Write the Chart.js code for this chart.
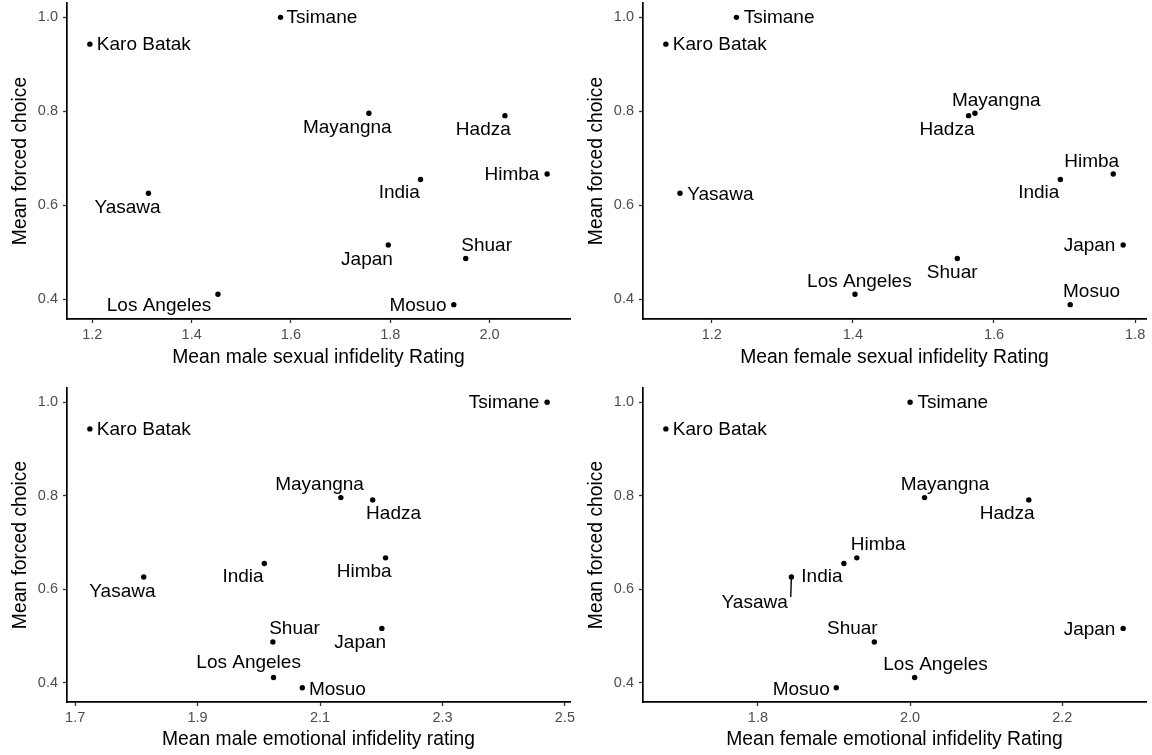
<!DOCTYPE html>
<html>
<head>
<meta charset="utf-8">
<script src="https://cdn.jsdelivr.net/npm/chart.js@4/dist/chart.umd.min.js"></script>
<style>
  body { margin: 0; background: #fff; }
  .panel { position: absolute; }
</style>
</head>
<body>
<div class="panel" style="left:0;top:0"><canvas id="c1" width="576" height="378"></canvas></div>
<div class="panel" style="left:576px;top:0"><canvas id="c2" width="576" height="378"></canvas></div>
<div class="panel" style="left:0;top:378px"><canvas id="c3" width="576" height="377"></canvas></div>
<div class="panel" style="left:576px;top:378px"><canvas id="c4" width="576" height="377"></canvas></div>
<script>
// data

let cultures = ['Tsimane', 'Karo Batak', 'Mayangna', 'Hadza', 'Himba', 'India', 'Yasawa', 'Japan', 'Shuar', 'Los Angeles', 'Mosuo'];

let forcedChoice = [1.000, 0.943, 0.796, 0.791, 0.667, 0.655, 0.626, 0.516, 0.487, 0.411, 0.389];

let maleSexual = [1.579, 1.195, 1.757, 2.031, 2.116, 1.861, 1.313, 1.796, 1.952, 1.453, 1.928];
let femaleSexual = [1.235, 1.135, 1.573, 1.564, 1.769, 1.694, 1.155, 1.783, 1.548, 1.403, 1.708];
let maleEmotional = [2.471, 1.724, 2.134, 2.186, 2.207, 2.009, 1.812, 2.201, 2.023, 2.024, 2.071];
let femaleEmotional = [2.000, 1.679, 2.019, 2.156, 1.930, 1.913, 1.844, 2.280, 1.953, 2.006, 1.903];

let yTicks = [0.4, 0.6, 0.8, 1.0];
let maleSexualTicks = [1.2, 1.4, 1.6, 1.8, 2.0];
let femaleSexualTicks = [1.2, 1.4, 1.6, 1.8];
let maleEmotionalTicks = [1.7, 1.9, 2.1, 2.3, 2.5];
let femaleEmotionalTicks = [1.8, 2.0, 2.2];

// label placement (pixel offset from the point + text align), same order as cultures

let place1 = [[6, 0, 'left'], [7, 1, 'left'], [-21.6, 14.4, 'center'], [-21.6, 13.8, 'center'], [-7.7, 1, 'right'], [-21.3, 13.4, 'center'],
  [-20.9, 14.8, 'center'], [-21.3, 14.4, 'center'], [20.9, -13.1, 'center'], [-6.6, 11.7, 'right'], [-7.3, 1, 'right']];
let place2 = [[7.3, 0, 'left'], [7, 1, 'left'], [21.3, -12.8, 'center'], [-21.6, 13.8, 'center'], [-21.6, -12.4, 'center'], [-21.6, 13.4, 'center'],
  [7.3, 1.3, 'left'], [-7.7, 1, 'right'], [-5.1, 13.8, 'center'], [4.4, -12.8, 'center'], [21.3, -12.4, 'center']];
let place3 = [[-7.7, 0, 'right'], [7, 1, 'left'], [-21.3, -12.8, 'center'], [20.9, 14.1, 'center'], [-21.3, 14.1, 'center'], [-21.3, 13.8, 'center'],
  [-21.3, 14.8, 'center'], [-21.6, 14.8, 'center'], [21.6, -13.4, 'center'], [-24.9, -14.8, 'center'], [6.6, 1.7, 'left']];
let place4 = [[7.3, 0, 'left'], [7, 1, 'left'], [20.5, -12.8, 'center'], [-21.6, 14.1, 'center'], [21.3, -12.8, 'center'], [-22, 13.8, 'center'],
  [-36.7, 25.5, 'center', [-0.7, 20]], [-7.7, 1, 'right'], [-22, -13.4, 'center'], [20.9, -13.1, 'center'], [-6.6, 1.7, 'right']];

const FONT = "'Liberation Sans', Arial, Helvetica, sans-serif";

// ggplot style 5% expansion of the axis range
function expand(values) {
  let lo = Math.min(...values);
  let hi = Math.max(...values);
  let pad = (hi - lo) * 0.05;
  return [lo - pad, hi + pad];
}

// draws the text labels next to each point
const pointLabels = {
  id: 'pointLabels',
  afterDatasetsDraw(chart, args, opts) {
    const ctx = chart.ctx;
    const meta = chart.getDatasetMeta(0);
    ctx.save();
    ctx.font = '19px ' + FONT;
    ctx.fillStyle = '#000';
    ctx.strokeStyle = '#000';
    ctx.textBaseline = 'middle';
    meta.data.forEach(function (pt, i) {
      let p = opts.place[i];
      ctx.textAlign = p[2];
      ctx.fillText(opts.names[i], pt.x + p[0], pt.y + p[1]);
      if (p[3]) {
        ctx.lineWidth = 1.4;
        ctx.beginPath();
        ctx.moveTo(pt.x, pt.y);
        ctx.lineTo(pt.x + p[3][0], pt.y + p[3][1]);
        ctx.stroke();
      }
    });
    ctx.restore();
  }
};

function makePanel(id, xValues, xTicks, xTitle, place, row) {
  let xr = expand(xValues);
  let yr = expand(forcedChoice);
  let points = [];
  for (let i = 0; i < cultures.length; i++) {
    points.push({ x: xValues[i], y: forcedChoice[i] });
  }

  let axisStyle = {
    grid: { drawOnChartArea: false, drawTicks: true, tickLength: 4, tickWidth: 1.3, tickColor: '#333' },
    border: { display: true, color: '#000', width: 1.7 }
  };

  return new Chart(document.getElementById(id), {
    type: 'scatter',
    data: {
      datasets: [{
        data: points,
        backgroundColor: '#000',
        borderWidth: 0,
        pointRadius: 2.7,
        pointHoverRadius: 2.7
      }]
    },
    options: {
      responsive: false,
      animation: false,
      devicePixelRatio: 1,
      layout: { padding: { left: 0, right: 6, top: row === 0 ? 3 : 10, bottom: 0 } },
      plugins: {
        legend: { display: false },
        tooltip: { enabled: false },
        pointLabels: { names: cultures, place: place }
      },
      scales: {
        x: {
          type: 'linear',
          min: xr[0],
          max: xr[1],
          grid: axisStyle.grid,
          border: axisStyle.border,
          afterBuildTicks: function (scale) {
            scale.ticks = xTicks.map(v => ({ value: v }));
          },
          afterFit: function (scale) {
            scale.height = row === 0 ? 59 : 53;
            scale.paddingLeft = 0;
            scale.paddingRight = 0;
          },
          ticks: {
            color: '#4d4d4d',
            font: { family: FONT, size: 14.5 },
            padding: 3,
            maxRotation: 0,
            callback: v => v.toFixed(1)
          },
          title: {
            display: true,
            text: xTitle,
            color: '#000',
            font: { family: FONT, size: 19.3 },
            padding: { top: 0, bottom: row === 0 ? 9 : 4 }
          }
        },
        y: {
          type: 'linear',
          min: yr[0],
          max: yr[1],
          grid: axisStyle.grid,
          border: axisStyle.border,
          afterBuildTicks: function (scale) {
            scale.ticks = yTicks.map(v => ({ value: v }));
          },
          afterFit: function (scale) {
            scale.width = 67;
            scale.paddingTop = 0;
            scale.paddingBottom = 0;
          },
          ticks: {
            color: '#4d4d4d',
            font: { family: FONT, size: 14.5 },
            padding: 5,
            callback: v => v.toFixed(1)
          },
          title: {
            display: true,
            text: 'Mean forced choice',
            color: '#000',
            font: { family: FONT, size: 19.3 },
            padding: { top: 9, bottom: 0 }
          }
        }
      }
    },
    plugins: [pointLabels]
  });
}

makePanel('c1', maleSexual, maleSexualTicks, 'Mean male sexual infidelity Rating', place1, 0);
makePanel('c2', femaleSexual, femaleSexualTicks, 'Mean female sexual infidelity Rating', place2, 0);
makePanel('c3', maleEmotional, maleEmotionalTicks, 'Mean male emotional infidelity rating', place3, 1);
makePanel('c4', femaleEmotional, femaleEmotionalTicks, 'Mean female emotional infidelity Rating', place4, 1);
</script>
</body>
</html>
